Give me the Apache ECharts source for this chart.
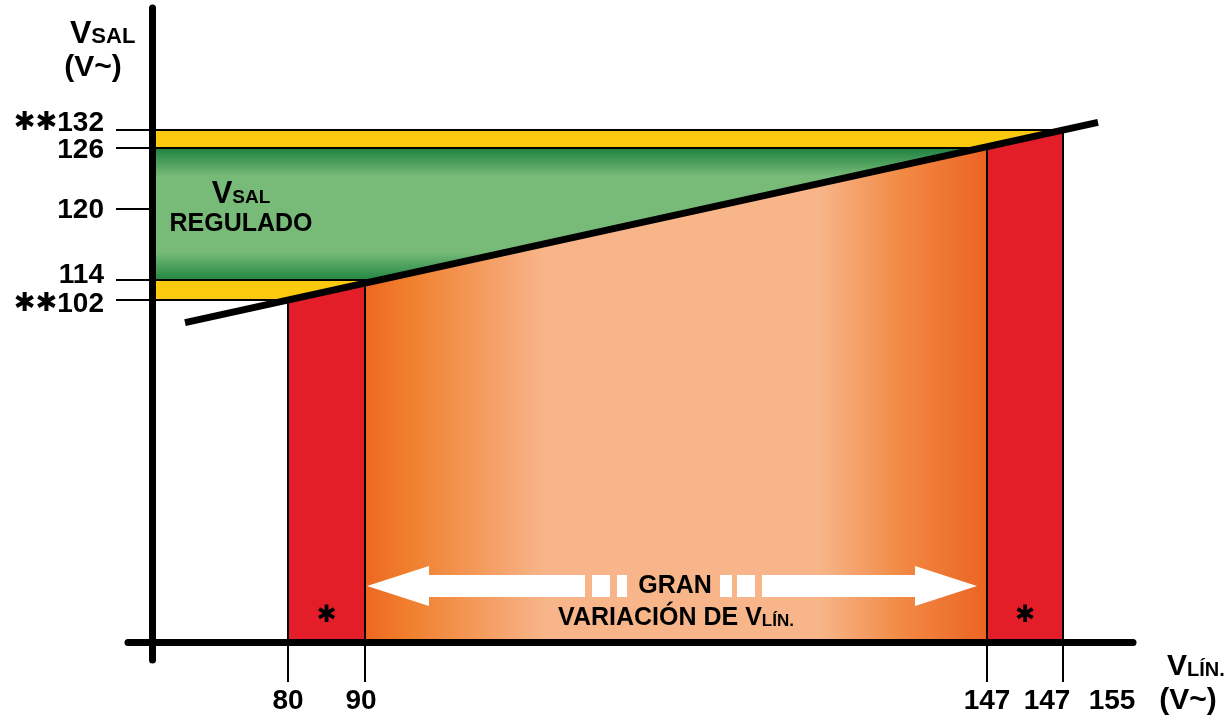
<!DOCTYPE html>
<html><head><meta charset="utf-8">
<script src="https://cdn.jsdelivr.net/npm/echarts@6/dist/echarts.min.js"></script>
<style>html,body{margin:0;padding:0;background:#fff}#c{width:1230px;height:719px}</style>
</head><body><div id="c"></div>
<script>
// ---------------- data ----------------
// V lín. ticks (schematic, non-linear axis positions)
const xTickLabels = ['80', '90', '147', '147', '155'];
const xTickSlots  = [13.6, 21.3, 83.5, 91.1, 98.1];
// V sal ticks (schematic, non-linear axis positions)
const yTickLabels = ['102', '114', '120', '126', '132'];
const yTickMarks  = ['**', '', '', '', '**'];
const yTickSlots  = [34.2, 36.2, 43.3, 49.4, 51.2];
const yAxisTitle = ['V', 'SAL', '(V~)'];
const xAxisTitle = ['V', 'LÍN.', '(V~)'];
const bandLabel = ['V', 'SAL', 'REGULADO'];
const arrowLabel = ['GRAN', 'VARIACIÓN DE V', 'LÍN.'];

// ---------------- style / layout ----------------
const FONT = 'Liberation Sans';
const STAR_FONT = 'DejaVu Sans';
const STAR = '\u2731';
const YELLOW = '#fbc90d';
const RED = '#e31e28';
const W_PX = 1230, H_PX = 719;
const GRID = {left: 128, right: 97, top: 8, bottom: 59};
const X_MIN = -2.4, X_MAX = xTickSlots[4], Y_MIN = -1.8, Y_MAX = 63.4;
const xLabelShiftPx = [0, -4, 0, -16, -21];  // px right (+) / left (-)
const yLabelShiftPx = [4, -5, 1, 2, -7];     // px down (+) / up (-)
const ARROW_LEVEL = 5.6;
const LINE_EXT = [10.3, 3.5];

const xUnitPerPx = (X_MAX - X_MIN) / (W_PX - GRID.left - GRID.right);
const yUnitPerPx = (Y_MAX - Y_MIN) / (H_PX - GRID.top - GRID.bottom);
const xLabelSlots = xTickSlots.map((s, i) => s + xLabelShiftPx[i] * xUnitPerPx);
const yLabelSlots = yTickSlots.map((s, i) => s - yLabelShiftPx[i] * yUnitPerPx);

const [x80, x90, x147a, x147b] = xTickSlots;
const y102 = yTickSlots[0], y114 = yTickSlots[1], y126 = yTickSlots[3], y132 = yTickSlots[4];
const slope = (y132 - y102) / (x147b - x80);
const lineY = x => y102 + (x - x80) * slope;
const lineX = y => x80 + (y - y102) / slope;

const greenGrad = new echarts.graphic.LinearGradient(0, 0, 0, 1, [
  {offset: 0, color: '#1b7f3e'}, {offset: 0.22, color: '#78bb78'},
  {offset: 0.78, color: '#78bb78'}, {offset: 1, color: '#1f8540'}]);
const orangeGrad = new echarts.graphic.LinearGradient(0, 0, 1, 0, [
  {offset: 0, color: '#ee6622'}, {offset: 0.07, color: '#f07f2c'},
  {offset: 0.22, color: '#f5a36c'}, {offset: 0.29, color: '#f7b589'},
  {offset: 0.73, color: '#f7b589'}, {offset: 0.86, color: '#f18a45'},
  {offset: 1, color: '#ec6322'}]);

function txt(x, y, text, rich, extra) {
  return Object.assign({type: 'text', x, y, style: Object.assign({
    text, rich, fill: '#000', fontFamily: FONT, fontWeight: 'bold',
    align: 'center', verticalAlign: 'middle'}, extra || {})});
}

function renderDiagram(params, api) {
  const P = (x, y) => api.coord([x, y]);
  const poly = (pts, fill) => ({type: 'polygon', shape: {points: pts},
    style: {fill, stroke: '#000', lineWidth: 2}});
  const kids = [];
  kids.push(poly([P(0, y102), P(0, y132), P(lineX(y132), y132), P(lineX(y102), y102)], YELLOW));
  kids.push(poly([P(0, y114), P(0, y126), P(lineX(y126), y126), P(lineX(y114), y114)], greenGrad));
  const col = (xa, xb, fill) => poly([P(xa, 0), P(xa, lineY(xa)), P(xb, lineY(xb)), P(xb, 0)], fill);
  kids.push(col(x80, x90, RED), col(x90, x147a, orangeGrad), col(x147a, x147b, RED));

  // double arrow
  const cy = P(0, ARROW_LEVEL)[1];
  const pl = P(x90, 0)[0], pr = P(x147a, 0)[0];
  const xl = pl + 2, xr = pr - 10, cx = (pl + pr) / 2;
  const W = {fill: '#fff'};
  const rect = (a, b) => ({type: 'rect', shape: {x: a, y: cy - 11, width: b - a, height: 22}, style: W});
  kids.push({type: 'polygon', shape: {points: [[xl, cy], [xl + 62, cy - 20], [xl + 62, cy + 20]]}, style: W});
  kids.push(rect(xl + 61, cx - 91), rect(cx - 84, cx - 66), rect(cx - 59, cx - 49));
  kids.push(rect(cx + 44, cx + 56), rect(cx + 61, cx + 79), rect(cx + 86, xr - 61));
  kids.push({type: 'polygon', shape: {points: [[xr, cy], [xr - 62, cy - 20], [xr - 62, cy + 20]]}, style: W});
  kids.push(txt(cx - 1, cy, arrowLabel[0], null, {fontSize: 25}));
  kids.push(txt(cx, cy + 32, '{b|' + arrowLabel[1] + '}{s|' + arrowLabel[2] + '}', {
    b: {fontSize: 25, fontFamily: FONT, fontWeight: 'bold', verticalAlign: 'bottom'},
    s: {fontSize: 17, fontFamily: FONT, fontWeight: 'bold', verticalAlign: 'bottom', padding: [0, 0, 1, 0]}}));

  // band label
  const g0 = P(0, y126)[1], g1 = P(0, y114)[1];
  kids.push(txt(P(0, 0)[0] + 89, (g0 + g1) / 2 - 6,
    '{v|' + bandLabel[0] + '}{s|' + bandLabel[1] + '}\n{r|' + bandLabel[2] + '}', {
      v: {fontSize: 31, fontFamily: FONT, fontWeight: 'bold', verticalAlign: 'bottom', lineHeight: 33},
      s: {fontSize: 19, fontFamily: FONT, fontWeight: 'bold', verticalAlign: 'bottom', lineHeight: 33, padding: [0, 0, 2, 0]},
      r: {fontSize: 25, fontFamily: FONT, fontWeight: 'bold', lineHeight: 30}}));

  // asterisks in the red columns
  const ay = P(0, 0)[1] - 26;
  kids.push(txt((P(x80, 0)[0] + P(x90, 0)[0]) / 2, ay, STAR, null, {fontSize: 24, fontFamily: STAR_FONT}));
  kids.push(txt((P(x147a, 0)[0] + P(x147b, 0)[0]) / 2, ay, STAR, null, {fontSize: 24, fontFamily: STAR_FONT}));
  return {type: 'group', children: kids};
}

const idxOf = (arr, v) => arr.findIndex(s => Math.abs(s - v) < 1e-6);
const numStyle = {fontSize: 28, fontFamily: FONT, fontWeight: 'bold', color: '#000', lineHeight: 22};
const starStyle = {fontSize: 26, fontFamily: STAR_FONT, fontWeight: 'bold', color: '#000', lineHeight: 22};

const chart = echarts.init(document.getElementById('c'));
chart.setOption({
  backgroundColor: '#fff',
  animation: false,
  grid: Object.assign({outerBoundsMode: 'none', containLabel: false}, GRID),
  xAxis: {
    type: 'value', min: X_MIN, max: X_MAX, z: 5,
    axisLine: {show: true, onZero: true, lineStyle: {color: '#000', width: 7}},
    axisTick: {show: true, customValues: xTickSlots.slice(0, 4), length: 40, lineStyle: {color: '#000', width: 2}},
    axisLabel: {customValues: xLabelSlots, margin: 30, hideOverlap: false,
      formatter: v => '{n|' + xTickLabels[idxOf(xLabelSlots, v)] + '}',
      rich: {n: numStyle}},
    splitLine: {show: false}
  },
  yAxis: {
    type: 'value', min: Y_MIN, max: Y_MAX, z: 5,
    axisLine: {show: true, onZero: true, lineStyle: {color: '#000', width: 7}},
    axisTick: {show: true, customValues: yTickSlots, length: 36, lineStyle: {color: '#000', width: 2}},
    axisLabel: {customValues: [Y_MIN].concat(yLabelSlots, [Y_MAX]), margin: 24, hideOverlap: false,
      formatter: v => {
        const i = idxOf(yLabelSlots, v);
        if (i < 0) return '';
        const m = yTickMarks[i] ? '{a|' + yTickMarks[i].replace(/\*/g, STAR) + '}' : '';
        return m + '{n|' + yTickLabels[i] + '}';
      },
      rich: {n: numStyle, a: starStyle}},
    splitLine: {show: false}
  },
  graphic: [
    {type: 'text', x: 70, y: 50, style: {text: '{v|' + yAxisTitle[0] + '}{s|' + yAxisTitle[1] + '}',
      align: 'left', verticalAlign: 'bottom', rich: {
        v: {fontSize: 32, fontFamily: FONT, fontWeight: 'bold', fill: '#000', verticalAlign: 'bottom'},
        s: {fontSize: 22, fontFamily: FONT, fontWeight: 'bold', fill: '#000', verticalAlign: 'bottom', padding: [0, 0, 2, 0]}}}},
    {type: 'text', x: 93, y: 68, style: {text: yAxisTitle[2], fontSize: 30, fontFamily: FONT, fontWeight: 'bold',
      fill: '#000', align: 'center', verticalAlign: 'middle'}},
    {type: 'text', x: 1167, y: 682, style: {text: '{v|' + xAxisTitle[0] + '}{s|' + xAxisTitle[1] + '}',
      align: 'left', verticalAlign: 'bottom', rich: {
        v: {fontSize: 30, fontFamily: FONT, fontWeight: 'bold', fill: '#000', verticalAlign: 'bottom'},
        s: {fontSize: 20, fontFamily: FONT, fontWeight: 'bold', fill: '#000', verticalAlign: 'bottom', padding: [0, 0, 2, 0]}}}},
    {type: 'text', x: 1188, y: 701, style: {text: xAxisTitle[2], fontSize: 30, fontFamily: FONT, fontWeight: 'bold',
      fill: '#000', align: 'center', verticalAlign: 'middle'}}
  ],
  series: [
    {type: 'custom', renderItem: renderDiagram, data: [0], z: 2, silent: true},
    {type: 'line', z: 3, symbol: 'none', silent: true,
      lineStyle: {color: '#000', width: 7, cap: 'butt'},
      data: [[x80 - LINE_EXT[0], lineY(x80 - LINE_EXT[0])], [x147b + LINE_EXT[1], lineY(x147b + LINE_EXT[1])]]}
  ]
});
</script></body></html>
